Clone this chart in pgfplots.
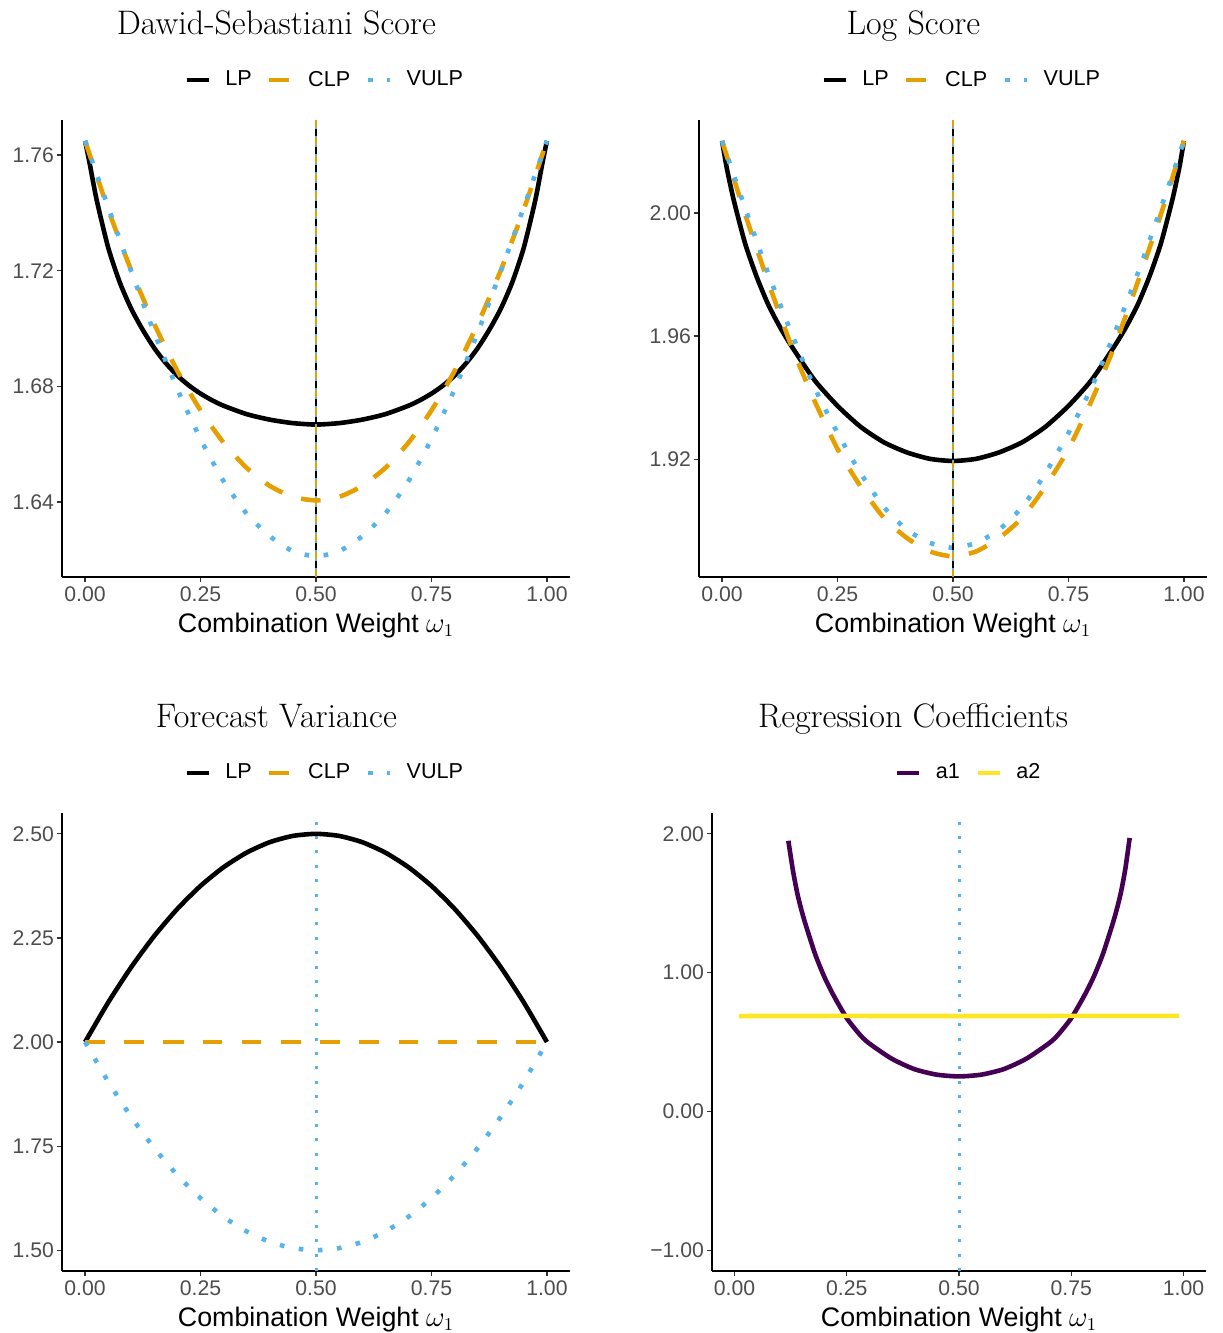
\documentclass[border=0pt]{standalone}
\usepackage{fontspec}
\usepackage{pgfplots}
\pgfplotsset{compat=1.18}
\newfontfamily\arial{Liberation Sans}
\definecolor{clp}{HTML}{E69F00}
\definecolor{vulp}{HTML}{56B4E9}
\definecolor{aone}{HTML}{440154}
\definecolor{atwo}{HTML}{FDE725}
\definecolor{tickgray}{HTML}{4D4D4D}
\definecolor{tickline}{HTML}{333333}

\pgfplotsset{
  panel/.style={
    scale only axis, width=254pt, height=228.5pt,
    axis lines*=left,
    axis line style={black, line width=0.6pt},
    tick align=outside,
    major tick length=2.5pt,
    tick style={tickline, line width=0.6pt},
    xmin=-0.05, xmax=1.05,
    xtick={0,0.25,0.5,0.75,1},
    xticklabels={0.00,0.25,0.50,0.75,1.00},
    ticklabel style={font=\arial\fontsize{10.6}{12}\selectfont, text=tickgray},
    yticklabel style={xshift=2pt},
    xticklabel style={yshift=1pt},
    xlabel={Combination Weight $\omega_1$},
    xlabel style={font=\arial\fontsize{13.4}{15}\selectfont, at={(axis description cs:0.5,0)}, anchor=base, yshift=-27.5pt},
    title style={font=\fontsize{17}{20}\selectfont, at={(axis description cs:0.422,1)}, anchor=base, yshift=36.75pt},
    legend style={draw=none, fill=none, legend columns=-1, at={(0.5,1.0876)}, anchor=center,
      font=\arial\fontsize{10.8}{12}\selectfont, nodes={inner sep=0pt}, column sep=0pt},
    legend image code/.code={\path (-7.7pt,-3pt) (18.2pt,3pt); \draw[#1] (0pt,0pt) -- (11pt,0pt);},
    every axis plot/.append style={line join=round},
  },
  lp/.style={black, line width=2.3pt, smooth, tension=0.4},
  clpl/.style={clp, line width=2.3pt, dash pattern=on 9.8pt off 9.8pt, smooth, tension=0.4},
  vulpl/.style={vulp, line width=2.3pt, dash pattern=on 2.3pt off 7.3pt, smooth, tension=0.4},
  vthin/.style={vulp, line width=1.5pt, dash pattern=on 1.5pt off 5.7pt},
}

\begin{document}
\begin{tikzpicture}
\useasboundingbox (0,0) rectangle (611pt,-666.5pt);

% ---------------- Dawid-Sebastiani Score
\begin{axis}[panel, at={(31pt,-288.5pt)}, anchor=south west,
  title={Dawid-Sebastiani Score},
  ymin=1.6141, ymax=1.7721,
  ytick={1.64,1.68,1.72,1.76}, yticklabels={1.64,1.68,1.72,1.76}]
\addplot[lp] coordinates {(0,1.7649)(0.01,1.7570)(0.025,1.7445)(0.05,1.7280)(0.075,1.7160)(0.1,1.7068)(0.125,1.6995)(0.15,1.6932)(0.175,1.6880)(0.2,1.6837)(0.225,1.6803)(0.25,1.6775)(0.275,1.6752)(0.3,1.6733)(0.35,1.6704)(0.4,1.6685)(0.45,1.6673)(0.5,1.6668)(0.55,1.6673)(0.6,1.6685)(0.65,1.6704)(0.7,1.6733)(0.725,1.6752)(0.75,1.6775)(0.775,1.6803)(0.8,1.6837)(0.825,1.6880)(0.85,1.6932)(0.875,1.6995)(0.9,1.7068)(0.925,1.7160)(0.95,1.7280)(0.975,1.7445)(0.99,1.7570)(1,1.7649)};
\addlegendentry{LP}
\addplot[clpl] coordinates {(0,1.7649)(0.05,1.7412)(0.1,1.7201)(0.15,1.7015)(0.2,1.6853)(0.25,1.6717)(0.3,1.6605)(0.35,1.6518)(0.4,1.6456)(0.45,1.6418)(0.5,1.6406)(0.55,1.6418)(0.6,1.6456)(0.65,1.6518)(0.7,1.6605)(0.75,1.6717)(0.8,1.6853)(0.85,1.7015)(0.9,1.7201)(0.95,1.7412)(1,1.7649)};
\addlegendentry{CLP}
\addplot[vulpl] coordinates {(0,1.7649)(0.05,1.7420)(0.1,1.7197)(0.15,1.6985)(0.2,1.6790)(0.25,1.6618)(0.3,1.6472)(0.35,1.6360)(0.4,1.6282)(0.45,1.6230)(0.5,1.6213)(0.55,1.6230)(0.6,1.6282)(0.65,1.6360)(0.7,1.6472)(0.75,1.6618)(0.8,1.6790)(0.85,1.6985)(0.9,1.7197)(0.95,1.7420)(1,1.7649)};
\addlegendentry{VULP}
\addplot[black, line width=1.3pt, forget plot] coordinates {(0.5,1.6141)(0.5,1.7721)};
\addplot[clp, line width=1.3pt, dash pattern=on 3.5pt off 5.5pt, forget plot] coordinates {(0.5,1.6141)(0.5,1.7721)};
\addplot[vulp, line width=1.3pt, dash pattern=on 1pt off 3.5pt, dash phase=1pt, forget plot] coordinates {(0.5,1.6141)(0.5,1.7721)};
\end{axis}

% ---------------- Log Score
\begin{axis}[panel, at={(349.5pt,-288.5pt)}, anchor=south west,
  title={Log Score},
  ymin=1.8817, ymax=2.0302,
  ytick={1.92,1.96,2.00}, yticklabels={1.92,1.96,2.00}]
\addplot[lp] coordinates {(0,2.0234)(0.01,2.0147)(0.025,2.0043)(0.05,1.9900)(0.075,1.9792)(0.1,1.9702)(0.125,1.9630)(0.15,1.9568)(0.2,1.9457)(0.25,1.9373)(0.3,1.9305)(0.35,1.9255)(0.4,1.9222)(0.45,1.9201)(0.5,1.9194)(0.55,1.9201)(0.6,1.9222)(0.65,1.9255)(0.7,1.9305)(0.75,1.9373)(0.8,1.9457)(0.85,1.9568)(0.875,1.9630)(0.9,1.9702)(0.925,1.9792)(0.95,1.9900)(0.975,2.0043)(0.99,2.0147)(1,2.0234)};
\addlegendentry{LP}
\addplot[clpl] coordinates {(0,2.0234)(0.05,1.9995)(0.1,1.9775)(0.15,1.9568)(0.2,1.9390)(0.25,1.9233)(0.3,1.9111)(0.35,1.9010)(0.4,1.8944)(0.45,1.8900)(0.5,1.8884)(0.55,1.8900)(0.6,1.8944)(0.65,1.9010)(0.7,1.9111)(0.75,1.9233)(0.8,1.9390)(0.85,1.9568)(0.9,1.9775)(0.95,1.9995)(1,2.0234)};
\addlegendentry{CLP}
\addplot[vulpl] coordinates {(0,2.0234)(0.05,2.0015)(0.1,1.9803)(0.15,1.9610)(0.2,1.9433)(0.25,1.9285)(0.3,1.9154)(0.35,1.9045)(0.4,1.8971)(0.45,1.8928)(0.5,1.8912)(0.55,1.8928)(0.6,1.8971)(0.65,1.9045)(0.7,1.9154)(0.75,1.9285)(0.8,1.9433)(0.85,1.9610)(0.9,1.9803)(0.95,2.0015)(1,2.0234)};
\addlegendentry{VULP}
\addplot[black, line width=1.3pt, forget plot] coordinates {(0.5,1.8817)(0.5,2.0302)};
\addplot[clp, line width=1.3pt, dash pattern=on 3.5pt off 5.5pt, forget plot] coordinates {(0.5,1.8817)(0.5,2.0302)};
\addplot[vulp, line width=1.3pt, dash pattern=on 1pt off 3.5pt, dash phase=1pt, forget plot] coordinates {(0.5,1.8817)(0.5,2.0302)};
\end{axis}

% ---------------- Forecast Variance
\begin{axis}[panel, at={(31pt,-635.5pt)}, anchor=south west, height=229pt,
  title={Forecast Variance},
  ymin=1.45, ymax=2.55,
  ytick={1.5,1.75,2,2.25,2.5}, yticklabels={1.50,1.75,2.00,2.25,2.50}]
\addplot[vthin, forget plot] coordinates {(0.5,1.45)(0.5,2.55)};
\addplot[lp] coordinates {(0,2)(0.05,2.095)(0.1,2.18)(0.15,2.255)(0.2,2.32)(0.25,2.375)(0.3,2.42)(0.35,2.455)(0.4,2.48)(0.45,2.495)(0.5,2.5)(0.55,2.495)(0.6,2.48)(0.65,2.455)(0.7,2.42)(0.75,2.375)(0.8,2.32)(0.85,2.255)(0.9,2.18)(0.95,2.095)(1,2)};
\addlegendentry{LP}
\addplot[clpl] coordinates {(0,2)(1,2)};
\addlegendentry{CLP}
\addplot[vulpl] coordinates {(0,2)(0.05,1.905)(0.1,1.82)(0.15,1.745)(0.2,1.68)(0.25,1.625)(0.3,1.58)(0.35,1.545)(0.4,1.52)(0.45,1.505)(0.5,1.5)(0.55,1.505)(0.6,1.52)(0.65,1.545)(0.7,1.58)(0.75,1.625)(0.8,1.68)(0.85,1.745)(0.9,1.82)(0.95,1.905)(1,2)};
\addlegendentry{VULP}
\end{axis}

% ---------------- Regression Coefficients
\begin{axis}[panel, at={(356pt,-635.5pt)}, anchor=south west, width=247pt, height=229pt,
  title={Regression Coefficients},
  title style={at={(axis description cs:0.407,1)}},
  legend style={at={(0.502,1.0876)}},
  ymin=-1.15, ymax=2.15,
  ytick={-1,0,1,2}, yticklabels={−1.00,0.00,1.00,2.00}]
\addplot[vthin, forget plot] coordinates {(0.5,-1.15)(0.5,2.15)};
\addplot[aone, line width=2.3pt, smooth, tension=0.4] coordinates {(0.12,1.95)(0.13,1.74)(0.14,1.57)(0.15,1.44)(0.16,1.33)(0.18,1.13)(0.2,0.97)(0.22,0.84)(0.25,0.672)(0.28,0.55)(0.3,0.49)(0.35,0.38)(0.4,0.305)(0.45,0.265)(0.5,0.252)(0.55,0.265)(0.6,0.305)(0.65,0.38)(0.7,0.49)(0.72,0.55)(0.75,0.672)(0.78,0.84)(0.8,0.97)(0.82,1.13)(0.84,1.33)(0.85,1.44)(0.86,1.57)(0.87,1.74)(0.88,1.97)};
\addlegendentry{a1}
\addplot[atwo, line width=2.3pt] coordinates {(0.01,0.687)(0.25,0.688)(0.5,0.687)(0.75,0.688)(0.99,0.688)};
\addlegendentry{a2}
\end{axis}
\end{tikzpicture}
\end{document}
